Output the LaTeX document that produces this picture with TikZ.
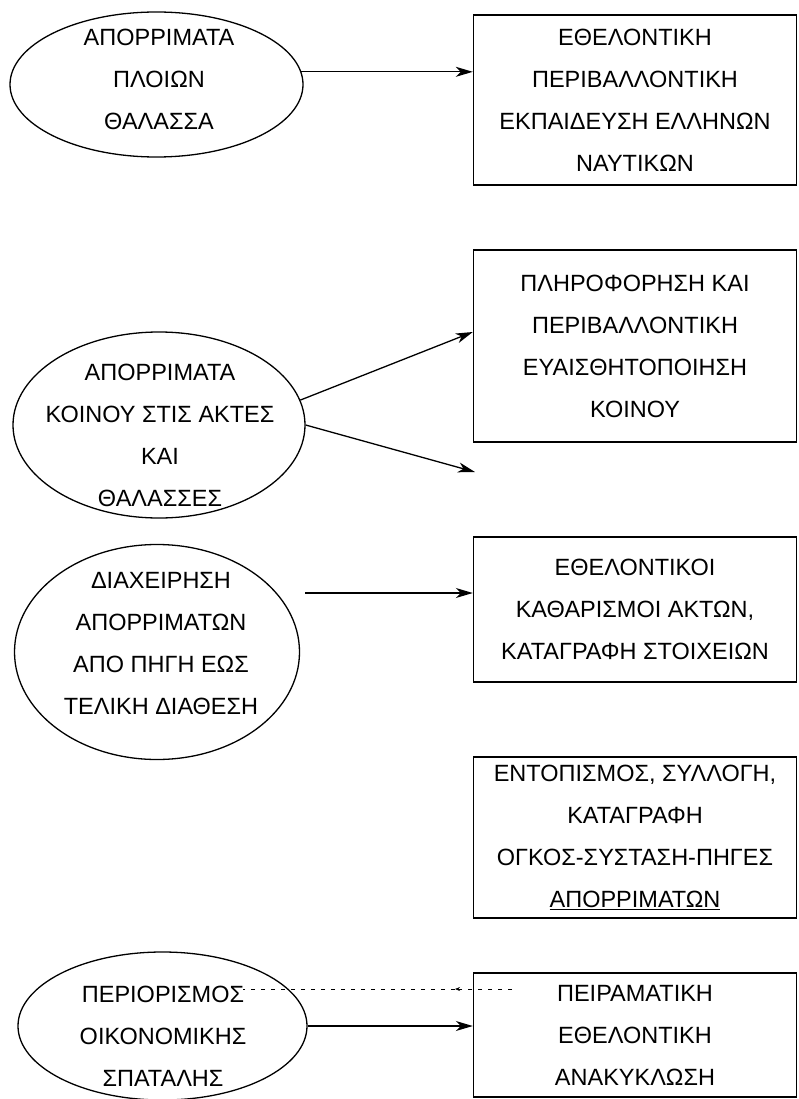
\documentclass[tikz,border=0pt]{standalone}
\usepackage{fontspec}
\setmainfont{Liberation Sans}
\usetikzlibrary{calc,positioning,arrows.meta,shapes}

\begin{document}
\begin{tikzpicture}[
			x=1pt,y=-1pt,
			blob/.style={ellipse,draw,line width=1.3pt,inner sep=0pt},
			card/.style={rectangle,draw,line width=1.4pt,minimum width=323pt,align=center,font=\fontsize{23.5}{42}\selectfont},
			words/.style={align=center,font=\fontsize{23.5}{42}\selectfont},
			arr/.style={line width=1.3pt,-{Stealth[length=17pt,width=10pt,inset=5pt]}},
			guide/.style={line width=0.6pt,dash pattern=on 4pt off 6pt}
		]
		\useasboundingbox (0,0) rectangle (798,1099);

		% left column: sources
		\node[blob,minimum width=293pt,minimum height=145pt] (ships) at (156.5,84.5) {};
		\node[words] (shipsText) at (159,79.5) {ΑΠΟΡΡΙΜΑΤΑ\\ΠΛΟΙΩΝ\\ΘΑΛΑΣΣΑ};
		\node[blob,minimum width=292pt,minimum height=186pt] (public) at (159,425) {};
		\node[words] (publicText) at (160,435) {ΑΠΟΡΡΙΜΑΤΑ\\ΚΟΙΝΟΥ ΣΤΙΣ ΑΚΤΕΣ\\ΚΑΙ\\ΘΑΛΑΣΣΕΣ};
		\node[blob,minimum width=285pt,minimum height=215pt] (manage) at (157,652) {};
		\node[words] (manageText) at (161,643.5) {ΔΙΑΧΕΙΡΗΣΗ\\ΑΠΟΡΡΙΜΑΤΩΝ\\ΑΠΟ ΠΗΓΗ ΕΩΣ\\ΤΕΛΙΚΗ ΔΙΑΘΕΣΗ};
		\node[blob,minimum width=289pt,minimum height=148pt] (waste) at (162.5,1026) {};
		\node[words] (wasteText) at (163,1036) {ΠΕΡΙΟΡΙΣΜΟΣ\\ΟΙΚΟΝΟΜΙΚΗΣ\\ΣΠΑΤΑΛΗΣ};

		% right column: actions
		\node[card,minimum height=170pt] (sailors) at (635,100) {ΕΘΕΛΟΝΤΙΚΗ\\ΠΕΡΙΒΑΛΛΟΝΤΙΚΗ\\ΕΚΠΑΙΔΕΥΣΗ ΕΛΛΗΝΩΝ\\ΝΑΥΤΙΚΩΝ};
		\node[card,minimum height=192pt] (inform) at (635,346) {ΠΛΗΡΟΦΟΡΗΣΗ ΚΑΙ\\ΠΕΡΙΒΑΛΛΟΝΤΙΚΗ\\ΕΥΑΙΣΘΗΤΟΠΟΙΗΣΗ\\ΚΟΙΝΟΥ};
		\node[card,minimum height=145pt] (cleanup) at (635,609.5) {ΕΘΕΛΟΝΤΙΚΟΙ\\ΚΑΘΑΡΙΣΜΟΙ ΑΚΤΩΝ,\\ΚΑΤΑΓΡΑΦΗ ΣΤΟΙΧΕΙΩΝ};
		\node[card,minimum height=161pt] (survey) at (635,837.5) {ΕΝΤΟΠΙΣΜΟΣ, ΣΥΛΛΟΓΗ,\\ΚΑΤΑΓΡΑΦΗ\\ΟΓΚΟΣ-ΣΥΣΤΑΣΗ-ΠΗΓΕΣ\\\underline{ΑΠΟΡΡΙΜΑΤΩΝ}};
		\node[card,minimum height=124pt] (recycle) at (635,1035) {ΠΕΙΡΑΜΑΤΙΚΗ\\ΕΘΕΛΟΝΤΙΚΗ\\ΑΝΑΚΥΚΛΩΣΗ};

		\coordinate (open) at (475,472);
		\coordinate (manageOut) at (305,593);
		\coordinate (dashL) at (243,989);
		\coordinate (dashTip) at (455,989);
		\coordinate (dashR) at (512,989);

		\draw[arr] (ships.5) -- (ships.5 -| sailors.west);
		\draw[arr] (public.10) -- ([yshift=14pt]inform.west);
		\draw[arr] (public.east) -- (open);
		\draw[arr] (manageOut) -- (manageOut -| cleanup.west);
		\draw[arr] (waste.east) -- (waste.east -| recycle.west);
		\draw[guide,-{Stealth[length=5pt,width=4pt]}] (dashR) -- (dashTip);
		\draw[guide] (dashTip) -- (dashL);
\end{tikzpicture}
\end{document}
